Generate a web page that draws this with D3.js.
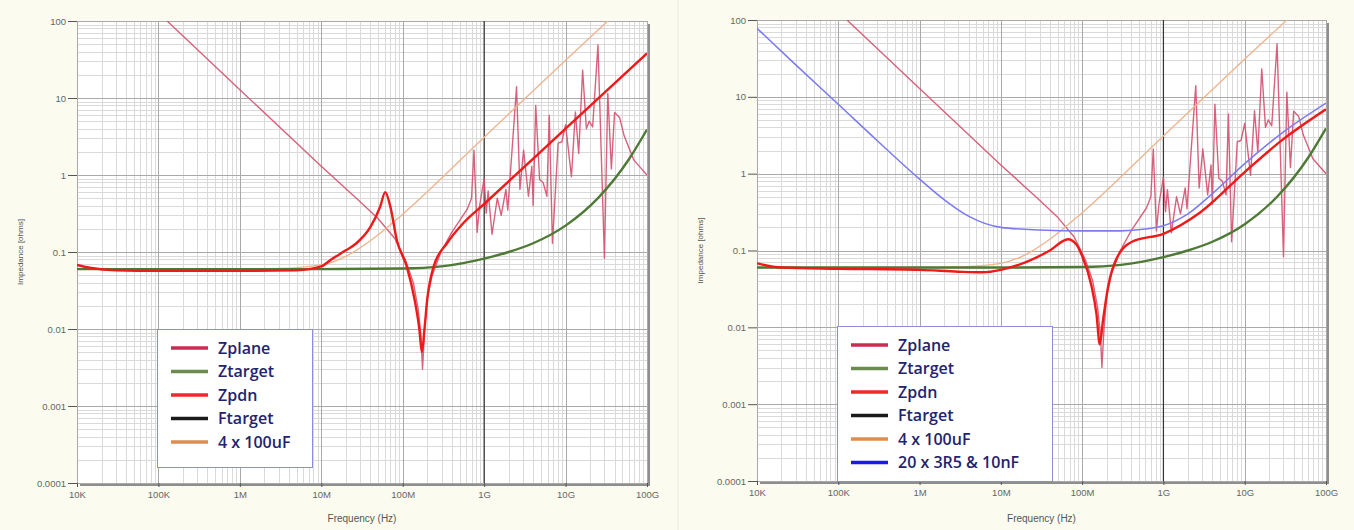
<!DOCTYPE html>
<html lang="en">
<head>
    <meta charset="UTF-8">
    <title>PDN impedance</title>
    <script src="https://cdn.jsdelivr.net/npm/d3@7/dist/d3.min.js"></script>
    <style>
        body { margin: 0; background: #fbfbef; }
        svg { display: block; font-family: "Liberation Sans", Arial, sans-serif; }
        .axis text { fill: #666; font-size: 9.5px; }
        .axis line { stroke: #555; }
        .legend text {
            font-family: "Open Sans", sans-serif;
            font-weight: 600;
            font-size: 16px;
            fill: #23236e;
        }
    </style>
</head>
<body>
<div id="chart"></div>

<script>
    // axis ticks
    const freqTicks = [1e4, 1e5, 1e6, 1e7, 1e8, 1e9, 1e10, 1e11];
    const freqLabels = ['10K', '100K', '1M', '10M', '100M', '1G', '10G', '100G'];
    const zTicks = [1e-4, 1e-3, 1e-2, 0.1, 1, 10, 100];
    const zLabels = ['0.0001', '0.001', '0.01', '0.1', '1', '10', '100'];

    // series, [frequency Hz, impedance ohms]
    const zplane = [
        [1.28e5, 100], [1e6, 12.8], [1e7, 1.3], [3e7, 0.45], [5e7, 0.27], [8e7, 0.15],
        [1.1e8, 0.075], [1.35e8, 0.04], [1.55e8, 0.018], [1.68e8, 0.008], [1.75e8, 0.003],
        [1.85e8, 0.009], [2.0e8, 0.025], [2.3e8, 0.05], [2.95e8, 0.1], [4e8, 0.18],
        [6.2e8, 0.36], [7.0e8, 0.5], [7.5e8, 2.1], [8.2e8, 0.18], [8.8e8, 0.4], [1e9, 0.9],
        [1.06e9, 0.32], [1.12e9, 0.62], [1.25e9, 0.17], [1.45e9, 0.5], [1.62e9, 0.3],
        [1.85e9, 0.65], [1.95e9, 0.35], [2.5e9, 14], [2.75e9, 0.65], [3.05e9, 2.1],
        [3.5e9, 0.53], [3.85e9, 1.3], [4.0e9, 0.4], [4.3e9, 8], [4.8e9, 0.87], [5.3e9, 0.8],
        [5.9e9, 0.53], [6.3e9, 6], [6.9e9, 0.13], [8.1e9, 2.6], [9e9, 2.7], [1e10, 4.5],
        [1.18e10, 0.95], [1.32e10, 6.6], [1.45e10, 1.9], [1.62e10, 23], [1.8e10, 4],
        [1.95e10, 5], [2.15e10, 4.2], [2.5e10, 49], [3.0e10, 0.083], [3.3e10, 11.5],
        [3.65e10, 1.2], [4.0e10, 6.5], [4.6e10, 5.6], [5.25e10, 3.2], [6.9e10, 1.56], [1e11, 1.0]
    ];
    const ztarget = [
        [1e4, 0.06], [1e7, 0.06], [1e8, 0.061], [3e8, 0.065], [1e9, 0.082], [2e9, 0.1],
        [4e9, 0.13], [1e10, 0.22], [2.5e10, 0.5], [6e10, 1.6], [1e11, 3.9]
    ];
    const bulk4x100uF = [
        [1e4, 0.06], [1e6, 0.06], [3e6, 0.061], [1e7, 0.068], [2e7, 0.088], [4e7, 0.14],
        [1e8, 0.31], [1e9, 3.1], [1e10, 31], [3.3e10, 100]
    ];
    const zpdnLeft = [
        [1e4, 0.068], [1.5e4, 0.062], [3e4, 0.058], [1e5, 0.057], [1e6, 0.057], [5e6, 0.058],
        [1e7, 0.065], [1.3e7, 0.079], [2e7, 0.105], [2.7e7, 0.13], [4e7, 0.21], [5.3e7, 0.39],
        [6.1e7, 0.6], [7e7, 0.4], [8.5e7, 0.14], [1.12e8, 0.065], [1.4e8, 0.024], [1.6e8, 0.01],
        [1.72e8, 0.005], [1.85e8, 0.01], [2e8, 0.024], [2.4e8, 0.065], [3.5e8, 0.13],
        [5.6e8, 0.24], [1e9, 0.42], [1e10, 4], [1e11, 38]
    ];
    const zpdnRight = [
        [1e4, 0.068], [2e4, 0.06], [1e5, 0.058], [1e6, 0.056], [3e6, 0.053], [6e6, 0.052],
        [1e7, 0.056], [2e7, 0.07], [4e7, 0.1], [6.7e7, 0.14], [8.5e7, 0.12], [1e8, 0.085],
        [1.3e8, 0.035], [1.5e8, 0.015], [1.65e8, 0.006], [1.8e8, 0.012], [2.1e8, 0.035],
        [2.6e8, 0.075], [4.1e8, 0.13], [1e9, 0.165], [2.8e9, 0.31], [1e10, 1.05],
        [2.9e10, 2.75], [1e11, 6.9]
    ];
    const mlcc20x = [
        [1e4, 78], [3e4, 26], [1e5, 8], [3e5, 2.7], [1e6, 0.85], [2e6, 0.46], [4e6, 0.28],
        [1e7, 0.2], [3e7, 0.185], [1e8, 0.18], [3e8, 0.18], [6e8, 0.19], [1e9, 0.21],
        [2e9, 0.3], [4e9, 0.55], [1e10, 1.35], [3e10, 3.5], [1e11, 8.3]
    ];
    const fTarget = 1e9;

    const legendLeft = ['Zplane', 'Ztarget', 'Zpdn', 'Ftarget', '4 x 100uF'];
    const legendRight = ['Zplane', 'Ztarget', 'Zpdn', 'Ftarget', '4 x 100uF', '20 x 3R5 & 10nF'];
</script>

<script>
    const W = 1354, H = 530;

    const styles = {
        'Zplane':          { stroke: '#d4516f', width: 1.4, key: '#cc2a52' },
        'Ztarget':         { stroke: '#4f7a36', width: 2.4, key: '#6b8c4e' },
        'Zpdn':            { stroke: '#ee1a1a', width: 2.4, key: '#ee2a2a' },
        'Ftarget':         { stroke: '#333333', width: 1.2, key: '#1a1a1a' },
        '4 x 100uF':       { stroke: '#f0b48f', width: 1.4, key: '#e08c4c' },
        '20 x 3R5 & 10nF': { stroke: '#7c7cf2', width: 1.6, key: '#1a1aee' }
    };

    const panels = [
        {
            left: 77, right: 647, top: 21, bottom: 483,
            series: [['Zplane', zplane], ['4 x 100uF', bulk4x100uF], ['Ztarget', ztarget], ['Zpdn', zpdnLeft]],
            legend: { x: 157, y: 329, w: 155, h: 138, items: legendLeft }
        },
        {
            left: 757, right: 1326, top: 20, bottom: 481,
            series: [['Zplane', zplane], ['4 x 100uF', bulk4x100uF], ['Ztarget', ztarget],
                     ['20 x 3R5 & 10nF', mlcc20x], ['Zpdn', zpdnRight]],
            legend: { x: 837, y: 326, w: 215, h: 155, items: legendRight }
        }
    ];

    const svg = d3.select('#chart')
        .append('svg')
        .attr('width', W)
        .attr('height', H);

    // background
    svg.append('rect').attr('width', W).attr('height', H).attr('fill', '#fbfbef');
    svg.append('line')
        .attr('x1', 678).attr('x2', 678).attr('y1', 0).attr('y2', H)
        .attr('stroke', '#ecece0');

    panels.forEach((p, i) => {

        const x = d3.scaleLog().domain([1e4, 1e11]).range([p.left, p.right]);
        const y = d3.scaleLog().domain([1e-4, 100]).range([p.bottom, p.top]);
        const pw = p.right - p.left, ph = p.bottom - p.top;

        const g = svg.append('g');

        // plot frame with shadow on right and bottom
        g.append('rect')
            .attr('x', p.left + 3).attr('y', p.top + 3)
            .attr('width', pw).attr('height', ph)
            .attr('fill', '#8e8e8e');
        g.append('rect')
            .attr('x', p.left).attr('y', p.top)
            .attr('width', pw).attr('height', ph)
            .attr('fill', '#ffffff');

        // grid
        const isMajor = v => Math.abs(Math.log10(v) - Math.round(Math.log10(v))) < 1e-9;
        const xGrid = x.ticks();
        const yGrid = y.ticks();

        g.append('g').selectAll('line')
            .data(xGrid.filter(v => !isMajor(v)))
            .join('line')
            .attr('x1', d => Math.round(x(d)) + 0.5).attr('x2', d => Math.round(x(d)) + 0.5)
            .attr('y1', p.top).attr('y2', p.bottom)
            .attr('stroke', '#dadada');
        g.append('g').selectAll('line')
            .data(yGrid.filter(v => !isMajor(v)))
            .join('line')
            .attr('y1', d => Math.round(y(d)) + 0.5).attr('y2', d => Math.round(y(d)) + 0.5)
            .attr('x1', p.left).attr('x2', p.right)
            .attr('stroke', '#dadada');
        g.append('g').selectAll('line')
            .data(xGrid.filter(isMajor))
            .join('line')
            .attr('x1', d => Math.round(x(d)) + 0.5).attr('x2', d => Math.round(x(d)) + 0.5)
            .attr('y1', p.top).attr('y2', p.bottom)
            .attr('stroke', '#a9a9a9');
        g.append('g').selectAll('line')
            .data(yGrid.filter(isMajor))
            .join('line')
            .attr('y1', d => Math.round(y(d)) + 0.5).attr('y2', d => Math.round(y(d)) + 0.5)
            .attr('x1', p.left).attr('x2', p.right)
            .attr('stroke', '#a9a9a9');

        // curves
        const clipId = 'clip' + i;
        svg.append('clipPath').attr('id', clipId)
            .append('rect')
            .attr('x', p.left).attr('y', p.top)
            .attr('width', pw).attr('height', ph);

        const curves = g.append('g').attr('clip-path', `url(#${clipId})`);

        curves.append('line')
            .attr('x1', x(fTarget)).attr('x2', x(fTarget))
            .attr('y1', p.top).attr('y2', p.bottom)
            .attr('stroke', styles['Ftarget'].stroke)
            .attr('stroke-width', styles['Ftarget'].width);

        p.series.forEach(([name, data]) => {
            const line = d3.line()
                .x(d => x(d[0]))
                .y(d => y(d[1]))
                .curve(name === 'Zplane' ? d3.curveLinear : d3.curveMonotoneX);

            curves.append('path')
                .datum(data)
                .attr('d', line)
                .attr('fill', 'none')
                .attr('stroke', styles[name].stroke)
                .attr('stroke-width', styles[name].width)
                .attr('stroke-linejoin', 'round')
                .attr('opacity', name === 'Zplane' ? 0.9 : 1);
        });

        // axes
        g.append('g')
            .attr('class', 'axis')
            .attr('transform', `translate(${p.left},0)`)
            .call(d3.axisLeft(y)
                .tickValues(zTicks)
                .tickFormat((d, k) => zLabels[k])
                .tickSize(9)
                .tickPadding(2))
            .call(a => a.select('.domain').remove());

        g.append('g')
            .attr('class', 'axis')
            .attr('transform', `translate(0,${p.bottom})`)
            .call(d3.axisBottom(x)
                .tickValues(freqTicks)
                .tickFormat((d, k) => freqLabels[k])
                .tickSize(4)
                .tickPadding(4))
            .call(a => a.select('.domain').remove());

        g.append('text')
            .attr('x', (p.left + p.right) / 2)
            .attr('y', 522)
            .attr('text-anchor', 'middle')
            .attr('font-size', 10)
            .attr('fill', '#555')
            .text('Frequency (Hz)');

        g.append('text')
            .attr('transform', `translate(${p.left - 54},${(p.top + p.bottom) / 2}) rotate(-90)`)
            .attr('text-anchor', 'middle')
            .attr('font-size', 8)
            .attr('fill', '#555')
            .text('Impedance [ohms]');

        // legend
        const L = p.legend;
        const leg = g.append('g').attr('class', 'legend');
        leg.append('rect')
            .attr('x', L.x + 0.5).attr('y', L.y + 0.5)
            .attr('width', L.w).attr('height', L.h)
            .attr('fill', '#ffffff')
            .attr('stroke', '#8c8ce0');

        const rows = leg.selectAll('g.row')
            .data(L.items)
            .join('g')
            .attr('class', 'row')
            .attr('transform', (d, k) => `translate(${L.x},${L.y + 19 + k * 23.5})`);

        rows.append('line')
            .attr('x1', 14).attr('x2', 51)
            .attr('stroke', d => styles[d].key)
            .attr('stroke-width', 3.5);

        rows.append('text')
            .attr('x', 61)
            .attr('dy', '0.35em')
            .text(d => d);
    });
</script>
</body>
</html>
